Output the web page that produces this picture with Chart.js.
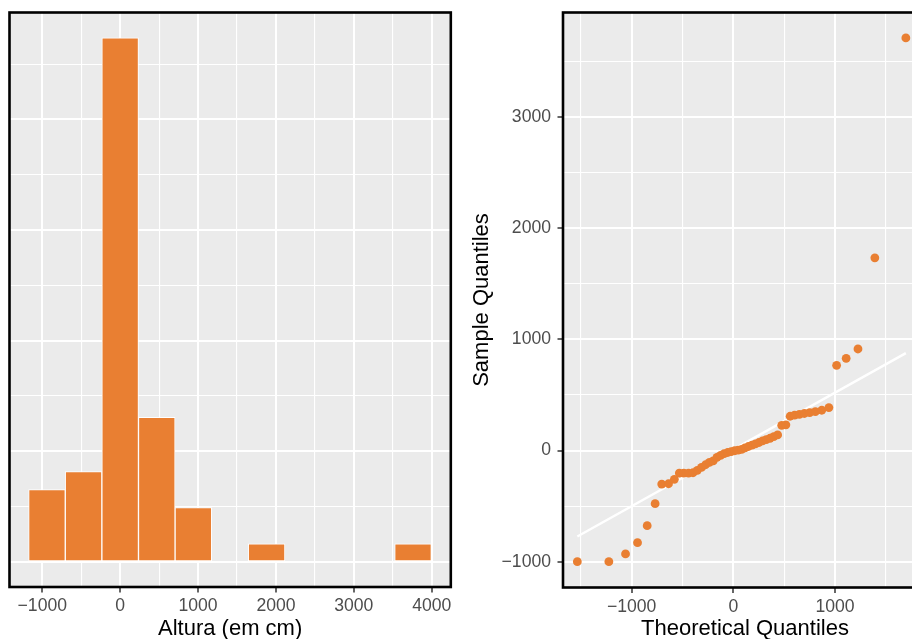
<!DOCTYPE html>
<html><head><meta charset="utf-8">
<script src="https://cdn.jsdelivr.net/npm/chart.js@4"></script>
<style>
html,body{margin:0;padding:0;background:#fff;overflow:hidden;width:912px;height:639px;position:relative;}
#c1{position:absolute;left:0;top:0;}
#c2{position:absolute;left:460px;top:0;}
</style></head><body>
<canvas id="c1" width="460" height="639" style="width:460px;height:639px"></canvas>
<canvas id="c2" width="480" height="639" style="width:480px;height:639px"></canvas>
<script>
// ---- Histogram data ----
const binCenters = [-940, -470, 0, 470, 940, 1410, 1880, 2350, 2820, 3290, 3760];
const binCounts  = [4, 5, 29, 8, 3, 0, 1, 0, 0, 0, 1];
const histXMajor = [-1000, 0, 1000, 2000, 3000, 4000];
const histXMinor = [-500, 500, 1500, 2500, 3500];
const histYStep  = 3.06;   // spacing of the (unlabelled) y grid lines, in counts

// ---- Q-Q plot data ----
const theoretical = [-1534, -1224, -1060, -942, -847, -769, -704, -637, -580, -531,
  -487, -440, -396, -354, -313, -273, -235, -198, -161, -125,
  -90, -55, -21, 14, 48, 82, 115, 149, 184, 218,
  253, 288, 324, 361, 398, 436, 476, 517, 559, 603,
  650, 699, 751, 807, 870, 940, 1016, 1110, 1226, 1392, 1697];
const sample = [-1000, -1000, -930, -829, -676, -478, -302, -299, -259, -203,
  -203, -203, -200, -178, -152, -128, -106, -94, -62, -44,
  -28, -18, -10, -2, 4, 10, 24, 36, 48, 60,
  72, 86, 98, 110, 124, 140, 226, 231, 308, 318,
  325, 333, 340, 350, 362, 386, 766, 829, 913, 1733, 3710];
const qqLineX = [-1534, 1697];
const qqLineY = [-774, 876];
const qqXMajor = [-1000, 0, 1000];
const qqXMinor = [-1500, -500, 500, 1500];
const qqYMajor = [-1000, 0, 1000, 2000, 3000];
const qqYMinor = [-500, 500, 1500, 2500, 3500];

const ORANGE = '#E97F32';
const FONT = "'Liberation Sans', Arial, Helvetica, sans-serif";
Chart.defaults.font.family = FONT;

function fmt(v){ return v < 0 ? '\u2212' + Math.abs(v) : String(v); }
function setTicks(major, minor){
  return function(scale){
    const t = major.map(v => ({value: v, isMajor: true}))
      .concat(minor.map(v => ({value: v, isMajor: false})))
      .filter(o => o.value >= scale.min && o.value <= scale.max)
      .sort((a,b) => a.value - b.value);
    scale.ticks = t;
  };
}
function fitH(h){ return s => { s.height = h; s.paddingLeft = 0; s.paddingRight = 0; s.paddingTop = 0; s.paddingBottom = 0; }; }
function fitW(w){ return s => { s.width = w; s.paddingLeft = 0; s.paddingRight = 0; s.paddingTop = 0; s.paddingBottom = 0; }; }
const gridOpts = (ticks) => ({
  color: '#FFFFFF',
  lineWidth: c => (c.tick && c.tick.isMajor) ? 2 : 1.1,
  drawTicks: ticks,
  tickLength: 5.5,
  tickWidth: 1.5,
  tickColor: c => (c.tick && c.tick.isMajor) ? '#333333' : 'rgba(0,0,0,0)',
  offset: false
});
const tickFont = {size: 17.6, family: FONT};
const titleFont = {size: 22, family: FONT, lineHeight: 0.9};
const labelCb = function(v, i, ticks){ return ticks[i].isMajor ? fmt(ticks[i].value) : ''; };

const panelPlugin = {
  id: 'panel',
  beforeDraw(chart){
    const a = chart.chartArea, ctx = chart.ctx;
    ctx.save(); ctx.fillStyle = '#EBEBEB';
    ctx.fillRect(a.left, a.top, a.right - a.left, a.bottom - a.top);
    ctx.restore();
  },
  afterDraw(chart){
    const a = chart.chartArea, ctx = chart.ctx;
    ctx.save(); ctx.strokeStyle = '#000'; ctx.lineWidth = 2.6;
    ctx.strokeRect(a.left, a.top, a.right - a.left, a.bottom - a.top);
    ctx.restore();
  }
};

// ---- Histogram ----
new Chart(document.getElementById('c1'), {
  type: 'bar',
  data: {
    datasets: [{
      data: binCenters.map((x, i) => ({x: x, y: binCounts[i]})),
      backgroundColor: ORANGE,
      borderColor: '#FFFFFF',
      borderWidth: 1,
      borderSkipped: false,
      barPercentage: 1,
      categoryPercentage: 1
    }]
  },
  options: {
    responsive: false, animation: false, events: [],
    devicePixelRatio: 1,
    layout: {padding: {left: 0, top: 12.5, right: 9.2, bottom: 0}},
    plugins: {legend: {display: false}, tooltip: {enabled: false}},
    scales: {
      x: {
        type: 'linear', min: -1421, max: 4245, bounds: 'data', offset: false,
        afterBuildTicks: setTicks(histXMajor, histXMinor),
        afterFit: fitH(52),
        grid: gridOpts(true),
        border: {display: false},
        ticks: {autoSkip: false, maxRotation: 0, minRotation: 0, color: '#4D4D4D', font: tickFont, padding: 3.5, callback: labelCb},
        title: {display: true, text: 'Altura (em cm)', color: '#000', font: titleFont, padding: {top: 0, bottom: 0}}
      },
      y: {
        type: 'linear', min: -1.39, max: 30.4, bounds: 'data',
        afterBuildTicks: s => {
          const t = [];
          for (let k = 0; k * histYStep <= s.max; k++) t.push({value: k * histYStep, isMajor: k % 2 === 0});
          s.ticks = t;
        },
        afterFit: fitW(9.5),
        grid: gridOpts(false),
        border: {display: false},
        ticks: {display: false}
      }
    }
  },
  plugins: [panelPlugin]
});

// ---- Q-Q plot ----
new Chart(document.getElementById('c2'), {
  type: 'scatter',
  data: {
    datasets: [
      {
        data: theoretical.map((x, i) => ({x: x, y: sample[i]})),
        backgroundColor: ORANGE, borderWidth: 0, pointRadius: 4.4, order: 0
      },
      {
        data: qqLineX.map((x, i) => ({x: x, y: qqLineY[i]})),
        showLine: true, borderColor: '#FFFFFF', borderWidth: 2.4, pointRadius: 0, order: 1
      }
    ]
  },
  options: {
    responsive: false, animation: false, events: [],
    devicePixelRatio: 1,
    layout: {padding: {left: 0, top: 12.5, right: 13, bottom: 0}},
    plugins: {legend: {display: false}, tooltip: {enabled: false}},
    scales: {
      x: {
        type: 'linear', min: -1675, max: 1905, bounds: 'data',
        afterBuildTicks: setTicks(qqXMajor, qqXMinor),
        afterFit: fitH(51.5),
        grid: gridOpts(true),
        border: {display: false},
        ticks: {autoSkip: false, maxRotation: 0, minRotation: 0, color: '#4D4D4D', font: tickFont, padding: 3.5, callback: labelCb},
        title: {display: true, text: 'Theoretical Quantiles', color: '#000', font: titleFont, padding: {top: 0, bottom: 0}}
      },
      y: {
        type: 'linear', min: -1232, max: 3939, bounds: 'data',
        afterBuildTicks: setTicks(qqYMajor, qqYMinor),
        afterFit: fitW(103),
        grid: gridOpts(true),
        border: {display: false},
        ticks: {autoSkip: false, color: '#4D4D4D', font: tickFont, padding: 6.5, callback: labelCb},
        title: {display: true, text: 'Sample Quantiles', color: '#000', font: titleFont, padding: {top: 11.8, bottom: 0}}
      }
    }
  },
  plugins: [panelPlugin]
});
</script>
</body></html>
